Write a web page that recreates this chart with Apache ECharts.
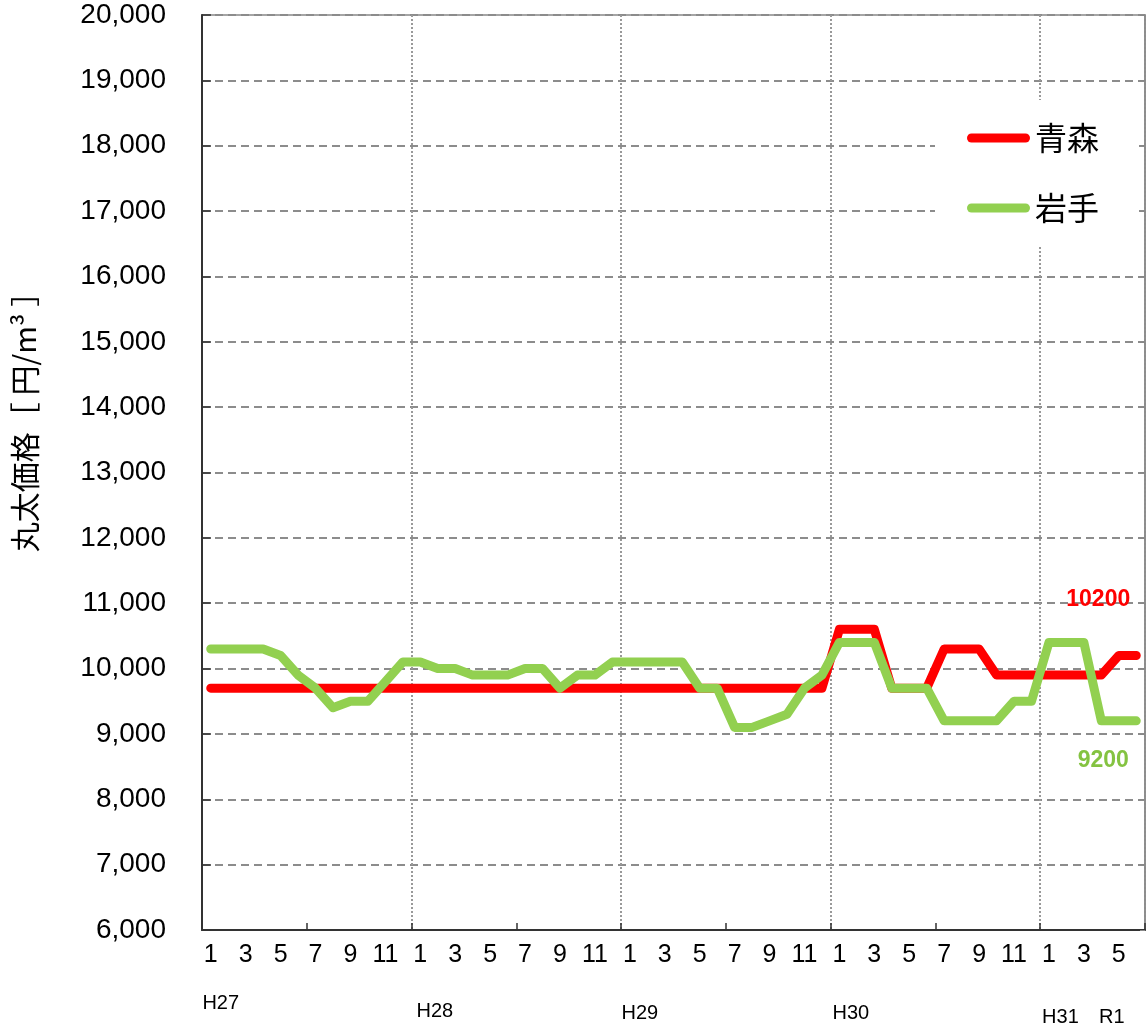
<!DOCTYPE html>
<html>
<head>
<meta charset="utf-8">
<script src="https://cdn.jsdelivr.net/npm/echarts@6/dist/echarts.min.js"></script>
<style>
  html, body { margin: 0; padding: 0; background: #fff; }
  #chart { width: 1146px; height: 1034px; }
</style>
</head>
<body>
<div id="chart"></div>
<script>
// 年ごとのラベル (H27 1月 〜 R1 6月)
var years = ['H27', 'H28', 'H29', 'H30', 'H31'];
var monthCount = 54;
var categories = [];
for (var i = 0; i < monthCount; i++) {
  categories.push(years[Math.floor(i / 12)] + '-' + (i % 12 + 1));
}
// 年の見出し (カテゴリ番号 → 表示)
var yearMarks = { 0: 'H27', 12: 'H28', 24: 'H29', 36: 'H30', 48: 'H31', 52: 'R1' };

// y軸
var yMin = 6000, yMax = 20000, yStep = 1000;

// 丸太価格 [円/m3]
var aomori = [
  9700, 9700, 9700, 9700, 9700, 9700, 9700, 9700, 9700, 9700, 9700, 9700,
  9700, 9700, 9700, 9700, 9700, 9700, 9700, 9700, 9700, 9700, 9700, 9700,
  9700, 9700, 9700, 9700, 9700, 9700, 9700, 9700, 9700, 9700, 9700, 9700,
  10600, 10600, 10600, 9700, 9700, 9700, 10300, 10300, 10300, 9900, 9900, 9900,
  9900, 9900, 9900, 9900, 10200, 10200
];
var iwate = [
  10300, 10300, 10300, 10300, 10200, 9900, 9700, 9400, 9500, 9500, 9800, 10100,
  10100, 10000, 10000, 9900, 9900, 9900, 10000, 10000, 9700, 9900, 9900, 10100,
  10100, 10100, 10100, 10100, 9700, 9700, 9100, 9100, 9200, 9300, 9700, 9900,
  10400, 10400, 10400, 9700, 9700, 9700, 9200, 9200, 9200, 9200, 9500, 9500,
  10400, 10400, 10400, 9200, 9200, 9200
];

var jp = 'Noto Sans CJK JP';
var num = 'Liberation Sans';

// 凡例の太線アイコン
var capsule = 'path://M4.5,0 H58.5 A4.5,4.5 0 0 1 58.5,9 H4.5 A4.5,4.5 0 0 1 4.5,0 Z';

// 最後の点だけラベルを出す
function withEndLabel(values, label) {
  return values.map(function (v, i) {
    if (i < values.length - 1) return v;
    return { value: v, symbol: 'circle', symbolSize: 1, label: label };
  });
}

// 年見出しの位置調整
var yearRich = {
  y0: { fontSize: 20, fontFamily: num, color: '#000', padding: [0, 0, 0, 20] },
  y12: { fontSize: 20, fontFamily: num, color: '#000', padding: [8, 0, 0, 29] },
  y24: { fontSize: 20, fontFamily: num, color: '#000', padding: [10, 0, 0, 20] },
  y36: { fontSize: 20, fontFamily: num, color: '#000', padding: [10, 0, 0, 23] },
  y48: { fontSize: 20, fontFamily: num, color: '#000', padding: [14, 0, 0, 23] },
  y52: { fontSize: 20, fontFamily: num, color: '#000', padding: [14, 14, 0, 0] }
};

var myChart = echarts.init(document.getElementById('chart'));

var option = {
  animation: false,
  backgroundColor: '#fff',
  grid: {
    left: 202, right: 1, top: 15, bottom: 104,
    show: true, borderColor: '#888', borderWidth: 1.5
  },
  legend: {
    data: [
      { name: '青森', icon: capsule },
      { name: '岩手', icon: capsule }
    ],
    orient: 'vertical',
    left: 935,
    top: 100,
    padding: [18, 40, 17, 32],
    backgroundColor: '#fff',
    itemWidth: 63,
    itemHeight: 9,
    itemGap: 30,
    textStyle: { fontSize: 32, lineHeight: 40, fontFamily: jp, color: '#000' }
  },
  xAxis: [
    {
      type: 'category',
      data: categories,
      boundaryGap: true,
      axisLine: { lineStyle: { color: '#333', width: 2 } },
      axisTick: {
        show: true, inside: true, length: 7,
        lineStyle: { color: '#333', width: 1.5 },
        interval: function (idx) { return idx % 6 === 0; }
      },
      axisLabel: {
        interval: 1,
        margin: 13,
        fontSize: 25,
        fontFamily: num,
        color: '#000',
        formatter: function (v) { return v.split('-')[1]; }
      },
      splitLine: {
        show: true,
        interval: function (idx) { return idx % 12 === 0; },
        lineStyle: { type: 'dotted', color: '#999', width: 2 }
      }
    },
    {
      // 年の見出し
      type: 'category',
      data: categories,
      position: 'bottom',
      boundaryGap: true,
      axisLine: { show: false },
      axisTick: { show: false },
      splitLine: { show: false },
      axisLabel: {
        interval: 0,
        margin: 63,
        formatter: function (v, idx) {
          return yearMarks[idx] ? '{y' + idx + '|' + yearMarks[idx] + '}' : '';
        },
        rich: yearRich
      }
    }
  ],
  yAxis: [
    {
      type: 'value',
      min: yMin, max: yMax, interval: yStep,
      name: '丸太価格［ 円/m³ ］',
      nameLocation: 'middle',
      nameGap: 162,
      nameRotate: 90,
      nameTextStyle: { fontSize: 30, fontFamily: jp, color: '#000', padding: [0, 0, 0, 116] },
      axisLine: { show: true, lineStyle: { color: '#333', width: 2 } },
      axisTick: { show: true, inside: true, length: 9, lineStyle: { color: '#333', width: 1.5 } },
      axisLabel: {
        margin: 36,
        fontSize: 28,
        fontFamily: num,
        color: '#000',
        formatter: function (v) { return v.toLocaleString('en-US'); }
      },
      splitLine: { show: true, lineStyle: { type: [8, 5], color: '#8c8c8c', width: 2 } }
    },
    {
      type: 'value',
      position: 'right',
      min: yMin, max: yMax, interval: yStep,
      axisLine: { show: true, lineStyle: { color: '#888', width: 1.5 } },
      axisTick: { show: true, inside: true, length: 5, lineStyle: { color: '#888' } },
      axisLabel: { show: false },
      splitLine: { show: false }
    }
  ],
  series: [
    {
      name: '青森',
      type: 'line',
      symbol: 'none',
      color: '#ff0000',
      lineStyle: { color: '#ff0000', width: 9, cap: 'round', join: 'round' },
      data: withEndLabel(aomori, {
        show: true, position: 'top', offset: [-38, -39],
        color: '#ff0000', fontSize: 23, fontWeight: 'bold', fontFamily: num
      })
    },
    {
      name: '岩手',
      type: 'line',
      symbol: 'none',
      color: '#92d050',
      lineStyle: { color: '#92d050', width: 9, cap: 'round', join: 'round' },
      data: withEndLabel(iwate, {
        show: true, position: 'bottom', offset: [-33, 23],
        color: '#84c341', fontSize: 23, fontWeight: 'bold', fontFamily: num
      })
    }
  ]
};

myChart.setOption(option);
</script>
</body>
</html>
